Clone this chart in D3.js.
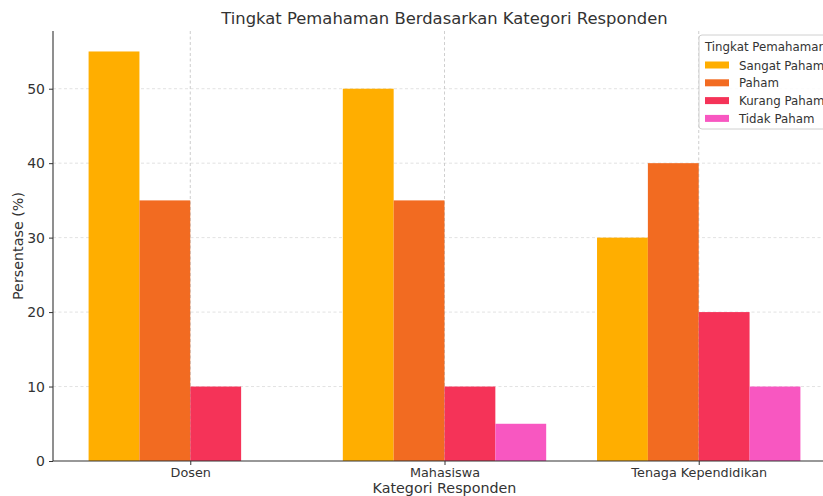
<!DOCTYPE html>
<html lang="id">
<head>
  <meta charset="UTF-8">
  <title>Tingkat Pemahaman</title>
  <script src="https://d3js.org/d3.v7.min.js"></script>
  <style>
    body { margin: 0; background: #fff; }
    svg { display: block; font-family: "DejaVu Sans", sans-serif; }
  </style>
</head>
<body>
  <div id="chart"></div>
  <script>
    // data
    const categories = ["Dosen", "Mahasiswa", "Tenaga Kependidikan"];
    const levels = ["Sangat Paham", "Paham", "Kurang Paham", "Tidak Paham"];
    const sangatPaham = [55, 50, 30];
    const paham = [35, 35, 40];
    const kurangPaham = [10, 10, 20];
    const tidakPaham = [0, 5, 10];
    const yTicks = [0, 10, 20, 30, 40, 50];
    const colors = ["#ffae00", "#f26b21", "#f53358", "#f857c1"];

    const series = [sangatPaham, paham, kurangPaham, tidakPaham];

    const width = 823, height = 496;
    const plotL = 53, plotR = 836, plotT = 31, plotB = 461;

    const svg = d3.select("#chart").append("svg")
      .attr("width", width)
      .attr("height", height);

    // numeric x like matplotlib: category i at i, bars width 0.2, margins 0.05
    const x = d3.scaleLinear().domain([-0.54, 2.54]).range([plotL, plotR]);
    const y = d3.scaleLinear().domain([0, 57.75]).range([plotB, plotT]);
    const barW = 0.2;

    // grid
    const grid = svg.append("g")
      .attr("stroke", "#dadada")
      .attr("stroke-width", 0.8)
      .attr("stroke-dasharray", "3,2.5");
    grid.selectAll(".gy").data(yTicks.slice(1)).enter().append("line")
      .attr("x1", plotL).attr("x2", plotR)
      .attr("y1", d => y(d)).attr("y2", d => y(d));
    grid.selectAll(".gx").data(categories).enter().append("line")
      .attr("x1", (d, i) => x(i)).attr("x2", (d, i) => x(i))
      .attr("y1", plotT).attr("y2", plotB);

    // bars
    series.forEach((vals, s) => {
      svg.append("g").selectAll("rect").data(vals).enter().append("rect")
        .attr("x", (d, i) => x(i + (s - 2) * barW))
        .attr("width", x(barW) - x(0))
        .attr("y", d => y(d))
        .attr("height", d => y(0) - y(d))
        .attr("fill", colors[s]);
    });

    // vertical gridlines also show faintly over bars
    svg.append("g").selectAll("line").data(categories).enter().append("line")
      .attr("x1", (d, i) => x(i)).attr("x2", (d, i) => x(i))
      .attr("y1", plotT).attr("y2", plotB)
      .attr("stroke", "#888").attr("stroke-opacity", 0.25)
      .attr("stroke-width", 0.8).attr("stroke-dasharray", "3,2.5");

    // axes
    const yAxis = svg.append("g")
      .attr("transform", `translate(${plotL},0)`)
      .call(d3.axisLeft(y).tickValues(yTicks).tickSize(4).tickPadding(4));
    const xAxis = svg.append("g")
      .attr("transform", `translate(0,${plotB})`)
      .call(d3.axisBottom(x).tickValues([0, 1, 2])
        .tickFormat(i => categories[i]).tickSize(4).tickPadding(3));
    [yAxis, xAxis].forEach(a => {
      a.select(".domain").attr("stroke", "#333").attr("stroke-width", 1.1);
      a.selectAll(".tick line").attr("stroke", "#333");
      a.selectAll("text").attr("fill", "#333").attr("font-family", "DejaVu Sans");
    });
    yAxis.selectAll("text").attr("font-size", 14);
    xAxis.selectAll("text").attr("font-size", 12.8);
    yAxis.select(".domain").attr("d", `M0,${plotT}V${plotB}`);
    xAxis.select(".domain").attr("d", `M${plotL},0H${plotR}`);

    // titles
    svg.append("text")
      .attr("x", (plotL + plotR) / 2).attr("y", 24)
      .attr("text-anchor", "middle").attr("font-size", 16.4).attr("fill", "#333")
      .text("Tingkat Pemahaman Berdasarkan Kategori Responden");
    svg.append("text")
      .attr("x", (plotL + plotR) / 2).attr("y", 493)
      .attr("text-anchor", "middle").attr("font-size", 14.3).attr("fill", "#333")
      .text("Kategori Responden");
    svg.append("text")
      .attr("transform", `translate(23,${(plotT + plotB) / 2}) rotate(-90)`)
      .attr("text-anchor", "middle").attr("font-size", 14.3).attr("fill", "#333")
      .text("Persentase (%)");

    // legend
    const lg = svg.append("g").attr("transform", "translate(699,35)");
    lg.append("rect")
      .attr("width", 140).attr("height", 94).attr("rx", 3)
      .attr("fill", "#fff").attr("fill-opacity", 0.85)
      .attr("stroke", "#d0d0d0");
    lg.append("text").attr("x", 6).attr("y", 16)
      .attr("font-size", 11.8).attr("fill", "#333").text("Tingkat Pemahaman");
    const items = lg.selectAll(".item").data(levels).enter().append("g")
      .attr("transform", (d, i) => `translate(6,${26.5 + i * 17.8})`);
    items.append("rect").attr("width", 24).attr("height", 7)
      .attr("fill", (d, i) => colors[i]);
    items.append("text").attr("x", 34).attr("y", 8)
      .attr("font-size", 11.8).attr("fill", "#333").text(d => d);
  </script>
</body>
</html>
